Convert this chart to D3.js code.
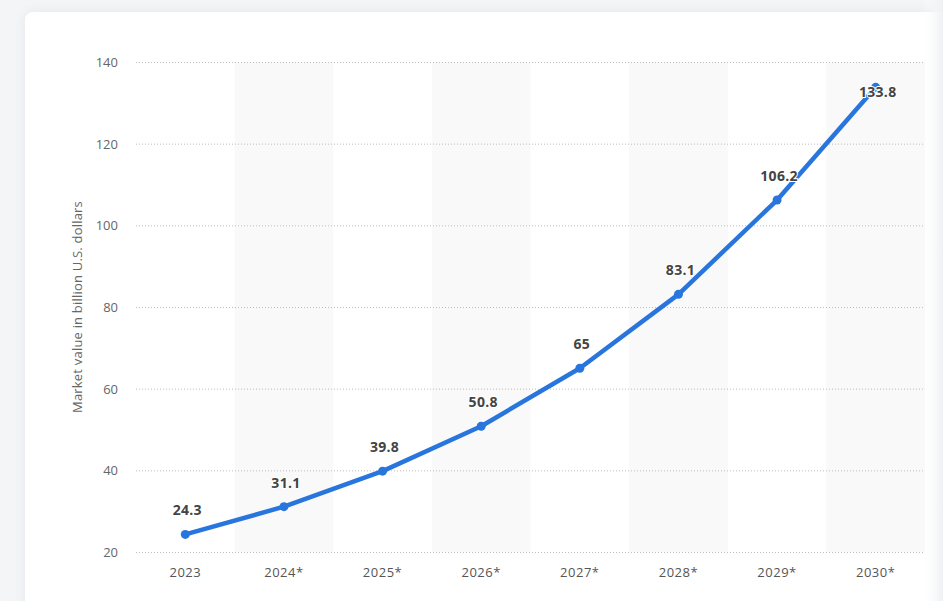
<!DOCTYPE html>
<html><head><meta charset="utf-8">
<script src="https://cdn.jsdelivr.net/npm/d3@7"></script>
<style>
html,body{margin:0;padding:0;background:#f4f5f7;overflow:hidden;}
svg{display:block;}
</style></head>
<body>
<svg id="c" width="943" height="601"></svg>
<script>
const categories = ["2023","2024*","2025*","2026*","2027*","2028*","2029*","2030*"];
const values = [24.3, 31.1, 39.8, 50.8, 65, 83.1, 106.2, 133.8];
const yTicks = [20, 40, 60, 80, 100, 120, 140];
const yTitle = "Market value in billion U.S. dollars";

const svg = d3.select("#c");
const defs = svg.append("defs");
const f = defs.append("filter").attr("id","sh").attr("x","-10%").attr("y","-10%").attr("width","130%").attr("height","130%");
f.append("feDropShadow").attr("dx",0).attr("dy",0).attr("stdDeviation",6).attr("flood-color","#c8ccd4").attr("flood-opacity",0.35);
const g1 = defs.append("linearGradient").attr("id","fade").attr("x1","0").attr("x2","1").attr("y1","0").attr("y2","0");
g1.append("stop").attr("offset","0").attr("stop-color","#ffffff").attr("stop-opacity",0);
g1.append("stop").attr("offset","1").attr("stop-color","#eef0f3").attr("stop-opacity",1);

svg.append("rect").attr("x",25).attr("y",12).attr("width",960).attr("height",620).attr("rx",8)
  .attr("fill","#fff").attr("filter","url(#sh)");

const L = 136, R = 925, T = 62, B = 552;
const x = d3.scaleBand().domain(categories).range([L, R]).padding(0);
const y = d3.scaleLinear().domain([20, 140]).range([B, T]);

// alternating bands
svg.append("g").selectAll("rect").data(categories.filter((d,i)=>i%2===1)).join("rect")
  .attr("x", d => x(d)).attr("y", T).attr("width", x.bandwidth()).attr("height", B - T)
  .attr("fill", "#f9f9f9");

// gridlines
svg.append("g").selectAll("line").data(yTicks).join("line")
  .attr("x1", L).attr("x2", R).attr("y1", d => y(d)+0.5).attr("y2", d => y(d)+0.5)
  .attr("stroke", "#bdbdbd").attr("stroke-width", 1).attr("stroke-dasharray", "1,2");

// y axis labels
const yAxis = d3.axisLeft(y).tickValues(yTicks).tickSize(0).tickPadding(0);
const ya = svg.append("g").attr("transform", `translate(${L-18},0)`).call(yAxis);
ya.select(".domain").remove();
ya.selectAll("text").attr("font-family","'Open Sans', sans-serif").attr("font-size",13)
  .attr("fill","#666").attr("dy","0.35em");

// x axis labels
const xAxis = d3.axisBottom(x).tickSize(0).tickPadding(0);
const xa = svg.append("g").attr("transform", `translate(0,${B+20})`).call(xAxis);
xa.select(".domain").remove();
xa.selectAll("text").attr("font-family","'Open Sans', sans-serif").attr("font-size",13)
  .attr("fill","#555").attr("dy","0.35em").attr("letter-spacing","0.5px");

// y title
svg.append("text").attr("transform", `translate(77,${(T+B)/2}) rotate(-90)`)
  .attr("text-anchor","middle").attr("dy","0.35em")
  .attr("font-family","'Open Sans', sans-serif").attr("font-size",13).attr("fill","#666")
  .attr("letter-spacing","0.2px")
  .text(yTitle);

const data = categories.map((c,i)=>({c, v: values[i]}));
const cx = d => x(d.c) + x.bandwidth()/2;

svg.append("path").datum(data)
  .attr("d", d3.line().x(cx).y(d => y(d.v)))
  .attr("fill","none").attr("stroke","#2876dd").attr("stroke-width",4.5)
  .attr("stroke-linejoin","round").attr("stroke-linecap","round");

svg.append("g").selectAll("circle").data(data).join("circle")
  .attr("cx", cx).attr("cy", d => y(d.v)).attr("r", 4.5).attr("fill","#2876dd");

svg.append("g").selectAll("text").data(data).join("text")
  .attr("x", d => cx(d) + 2)
  .attr("y", d => Math.max(y(d.v) - 24, T + 30))
  .attr("text-anchor","middle").attr("dy","0.35em")
  .attr("font-family","'Open Sans', sans-serif").attr("font-size",14).attr("font-weight","bold")
  .attr("fill","#444").attr("stroke","#fff").attr("stroke-width",2).attr("paint-order","stroke")
  .attr("letter-spacing","0.3px")
  .text(d => d.v);

// right edge fade
svg.append("rect").attr("x",922).attr("y",0).attr("width",21).attr("height",601).attr("fill","url(#fade)");
</script>
</body></html>
